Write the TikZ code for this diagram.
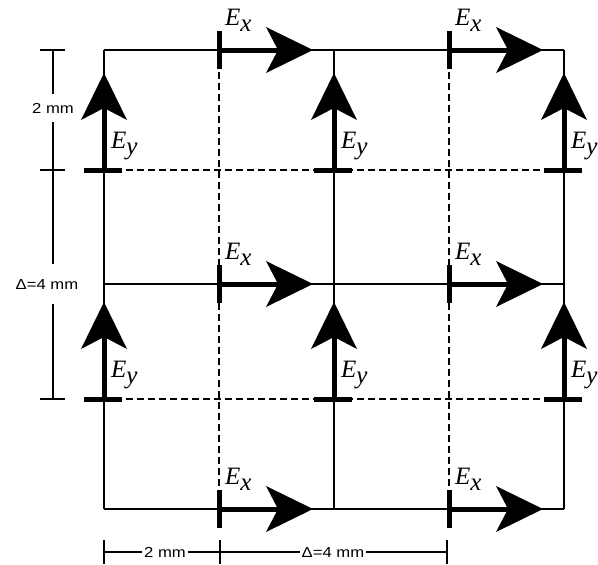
\documentclass[tikz,border=0pt]{standalone}
\usepackage{fontspec}
\setmainfont{Liberation Serif}
\newfontfamily\dimfont{Liberation Sans}
\usetikzlibrary{arrows.meta,calc}
\newcommand{\dimtxt}[1]{\scalebox{1.15}[1]{#1}}
\newcommand{\fld}[1]{E\raisebox{-6pt}{#1}}
\begin{document}
\begin{tikzpicture}[x=1pt,y=-1pt,
  gridline/.style={line width=1.4pt},
  gdash/.style={line width=1.3pt, dash pattern=on 7pt off 4pt},
  field/.style={line width=5pt, -{Stealth[length=47pt,width=46pt,inset=12pt,line width=0pt]}},
  fbar/.style={line width=5pt},
  dimline/.style={line width=1.2pt},
  flab/.style={font=\fontsize{25}{25}\selectfont\itshape, inner sep=0pt, anchor=base west},
  dimlab/.style={font=\dimfont\fontsize{14.5}{14.5}\selectfont, text height=10pt, text depth=0pt}
]
\useasboundingbox (0,0) rectangle (598,565);

% grid coordinates
\foreach \n/\x in {a/104, b/219, c/334, d/449, e/564}
  \foreach \m/\y in {1/50, 2/170, 3/284, 4/399, 5/509}
    \coordinate (\n\m) at (\x,\y);

% solid grid
\foreach \m in {1,3,5} \draw[gridline] (a\m) -- (e\m);
\foreach \n in {a,c,e} \draw[gridline] (\n1) -- (\n5);
% dashed grid
\foreach \m in {2,4} \draw[gdash] (a\m) -- (e\m);
\foreach \n in {b,d} \draw[gdash] (\n1) -- (\n5);

% E_x components
\foreach \n in {b,d}
  \foreach \m in {1,3,5} {
    \draw[fbar] ($(\n\m)+(0,-19)$) -- ($(\n\m)+(0,19)$);
    \coordinate (\n\m t) at ($(\n\m)+(94,0)$);
    \draw[field] (\n\m) -- (\n\m t);
    \node[flab] (lx\n\m) at ($(\n\m)+(6,-25)$) {\fld{x}};
  }

% E_y components
\foreach \n in {a,c,e}
  \foreach \m in {2,4} {
    \draw[fbar] ($(\n\m)+(-20,0)$) -- ($(\n\m)+(18,0)$);
    \coordinate (\n\m t) at ($(\n\m)+(0,-97)$);
    \draw[field] (\n\m) -- (\n\m t);
    \node[flab] (ly\n\m) at ($(\n\m)+(7,-22)$) {\fld{y}};
  }

% left dimension
\coordinate (L1) at (53,50);
\coordinate (L2) at (53,170);
\coordinate (L3) at (53,399);
\foreach \c in {L1,L2,L3} \draw[dimline] ($(\c)+(-13,0)$) -- ($(\c)+(12,0)$);
\node[dimlab, inner ysep=9pt, inner xsep=0pt] (dl1) at (53,108) {\dimtxt{2 mm}};
\node[dimlab, inner ysep=14.5pt, inner xsep=0pt] (dl2) at (47,284) {\dimtxt{Δ=4 mm}};
\draw[dimline] (L1) -- (L1 |- dl1.north);
\draw[dimline] (L2 |- dl1.south) -- (L2);
\draw[dimline] (L2) -- (L2 |- dl2.north);
\draw[dimline] (L3 |- dl2.south) -- (L3);

% bottom dimension
\coordinate (B1) at (104,552);
\coordinate (B2) at (220,552);
\coordinate (B3) at (447,552);
\foreach \c in {B1,B2,B3} \draw[dimline] ($(\c)+(0,-12)$) -- ($(\c)+(0,12)$);
\node[dimlab, inner xsep=1.5pt] (db1) at (165,552) {\dimtxt{2 mm}};
\node[dimlab, inner xsep=1.5pt] (db2) at (333,552) {\dimtxt{Δ=4 mm}};
\draw[dimline] (B1) -- (db1.west |- B1);
\draw[dimline] (db1.east |- B1) -- (B2);
\draw[dimline] (B2) -- (db2.west |- B2);
\draw[dimline] (db2.east |- B2) -- (B3);
\end{tikzpicture}
\end{document}
